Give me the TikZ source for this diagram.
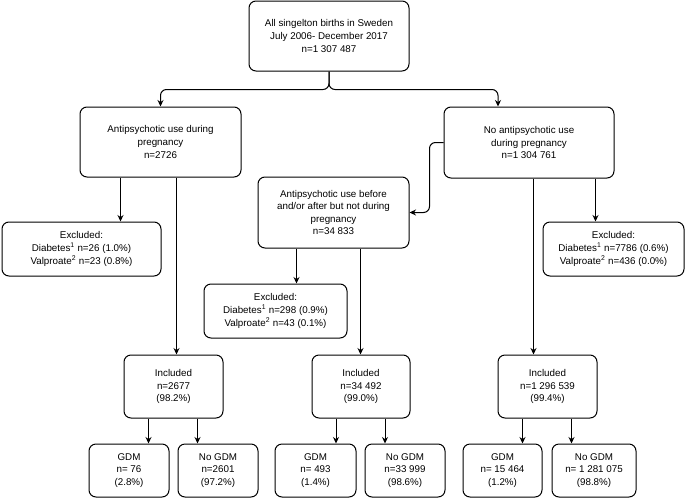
\documentclass[tikz,border=0pt]{standalone}
\usepackage{fontspec}
\setmainfont{Liberation Sans}
\usetikzlibrary{arrows.meta}

\tikzset{
  box/.style={draw, rounded corners=7pt, line width=1pt, align=center,
    font=\fontsize{9.8}{12.6}\selectfont, inner sep=2pt},
  arr/.style={-{Stealth[length=6.5pt,width=6pt]}, line width=1pt},
}

\begin{document}
\begin{tikzpicture}[x=1pt, y=-1pt]
    \useasboundingbox (0,0) rectangle (685,498);

    % cohort
    \node[box, minimum width=160, minimum height=70] (top) at (329,36)
        {All singelton births in Sweden\\July 2006- December 2017\\n=1 307 487};
    \node[box, minimum width=161, minimum height=70] (ap) at (160.5,142)
        {Antipsychotic use during\\pregnancy\\n=2726};
    \node[box, minimum width=170, minimum height=71] (no) at (529,142.5)
        {No antipsychotic use\\during pregnancy\\n=1 304 761};
    \node[box, minimum width=151, minimum height=71] (before) at (333.5,212.5)
        {Antipsychotic use before\\and/or after but not during\\pregnancy\\n=34 833};

    % exclusions
    \node[box, minimum width=159, minimum height=54] (exL) at (81.5,249)
        {Excluded:\\Diabetes\textsuperscript{1} n=26 (1.0\%)\\Valproate\textsuperscript{2} n=23 (0.8\%)};
    \node[box, minimum width=143, minimum height=54] (exM) at (275.5,311)
        {Excluded:\\Diabetes\textsuperscript{1} n=298 (0.9\%)\\Valproate\textsuperscript{2} n=43 (0.1\%)};
    \node[box, minimum width=141, minimum height=54] (exR) at (613.5,249)
        {Excluded:\\Diabetes\textsuperscript{1} n=7786 (0.6\%)\\Valproate\textsuperscript{2} n=436 (0.0\%)};

    % included
    \node[box, minimum width=99, minimum height=63] (incL) at (173.5,386.5)
        {Included\\n=2677\\(98.2\%)};
    \node[box, minimum width=98, minimum height=63] (incM) at (361,386.5)
        {Included\\n=34 492\\(99.0\%)};
    \node[box, minimum width=99, minimum height=63] (incR) at (547.5,386.5)
        {Included\\n=1 296 539\\(99.4\%)};

    % outcome
    \node[box, minimum width=80, minimum height=53] (gdmL) at (129,470.5)
        {GDM\\n= 76\\(2.8\%)};
    \node[box, minimum width=80, minimum height=53] (nogL) at (218,470.5)
        {No GDM\\n=2601\\(97.2\%)};
    \node[box, minimum width=81, minimum height=53] (gdmM) at (315.5,470.5)
        {GDM\\n= 493\\(1.4\%)};
    \node[box, minimum width=80, minimum height=53] (nogM) at (405,470.5)
        {No GDM\\n=33 999\\(98.6\%)};
    \node[box, minimum width=79, minimum height=53] (gdmR) at (502.5,470.5)
        {GDM\\n= 15 464\\(1.2\%)};
    \node[box, minimum width=84, minimum height=53] (nogR) at (594,470.5)
        {No GDM\\n= 1 281 075\\(98.8\%)};

    % connectors
    \draw[arr, rounded corners=6pt] (top.south) -- ++(0,18) -| (ap.north);
    \draw[arr, rounded corners=6pt] (top.south) -- ++(0,18) -| ([xshift=-31pt]no.north);
    \draw[arr, rounded corners=6pt] (no.west) -- ++(-14,0) |- (before.east);

    \draw[arr] ([xshift=41pt]ap.south west) -- ([xshift=41pt]ap.south west |- exL.north);
    \draw[arr] ([xshift=97pt]ap.south west) -- ([xshift=97pt]ap.south west |- incL.north);
    \draw[arr] ([xshift=39pt]before.south west) -- ([xshift=39pt]before.south west |- exM.north);
    \draw[arr] ([xshift=103pt]before.south west) -- ([xshift=103pt]before.south west |- incM.north);
    \draw[arr] ([xshift=152pt]no.south west) -- ([xshift=152pt]no.south west |- exR.north);
    \draw[arr] ([xshift=90pt]no.south west) -- ([xshift=90pt]no.south west |- incR.north);

    \foreach \i in {L,M,R} {
        \draw[arr] ([xshift=-25pt]inc\i.south) -- ([xshift=-25pt]inc\i.south |- gdm\i.north);
        \draw[arr] ([xshift=24pt]inc\i.south) -- ([xshift=24pt]inc\i.south |- nog\i.north);
    }
\end{tikzpicture}
\end{document}
